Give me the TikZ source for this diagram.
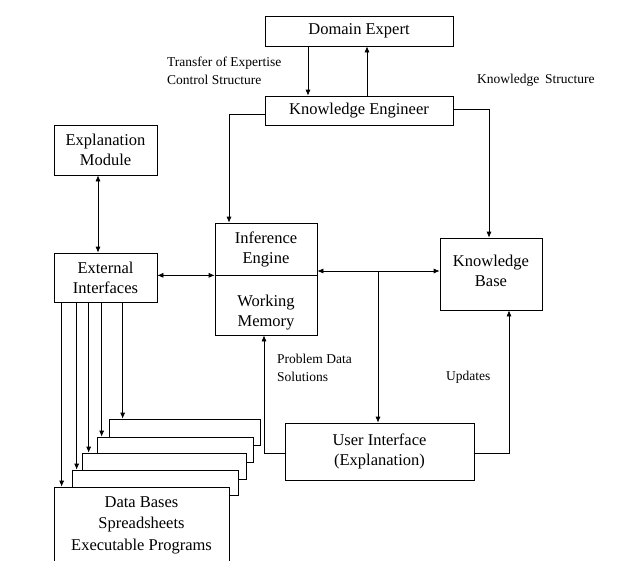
\documentclass[tikz,border=0pt]{standalone}
\usepackage{fontspec}
\setmainfont{Liberation Serif}
\usepackage{tikz}
\usetikzlibrary{arrows.meta}
\tikzset{
    mynode/.style={rectangle,draw=black,fill=white,line width=0.7pt,inner sep=0pt,text centered,align=center,font=\fontsize{16.5}{20}\selectfont},
    mystack/.style={rectangle,draw=black,fill=white,line width=0.7pt,inner sep=0pt},
    mytext/.style={align=center,inner sep=0pt,font=\fontsize{16.5}{20}\selectfont},
    myarrow/.style={->, >={Latex[length=6pt,width=5pt]}, line width=0.7pt},
    mylabel/.style={anchor=west,align=left,inner sep=0pt,font=\fontsize{13.5}{18}\selectfont}
}
\begin{document}
\begin{tikzpicture}[x=1pt,y=-1pt]
    \useasboundingbox (0,0) rectangle (618,560);
    \draw (359,31) node[mynode,minimum width=188pt,minimum height=30pt] (expert) {Domain Expert};
    \draw (359,110.5) node[mynode,minimum width=188pt,minimum height=29pt] (engineer) {Knowledge Engineer};
    \draw (105.5,150) node[mynode,minimum width=103pt,minimum height=50pt] (explanation) {Explanation\\Module};
    \draw (105.5,277.5) node[mynode,minimum width=103pt,minimum height=49pt] (external) {External\\Interfaces};
    \draw (266,249) node[mynode,minimum width=102pt,minimum height=52pt] (inference) {Inference\\Engine};
    \draw (266,305) node[mynode,minimum width=102pt,minimum height=60pt] (memory) {};
    \draw (266,313) node[mytext] (memtext) {Working\\Memory};
    \draw (491,274) node[mynode,minimum width=102pt,minimum height=72pt] (kbase) {};
    \draw (491,271) node[mytext] (kbtext) {Knowledge\\Base};
    \draw (379.5,451.5) node[mynode,minimum width=189pt,minimum height=57pt] (userif) {User Interface\\(Explanation)};
    % stacked boxes
    \draw (184.5,432) node[mystack,minimum width=151pt,minimum height=26pt] (stackd) {};
    \draw (175,449.5) node[mystack,minimum width=156pt,minimum height=25pt] (stackc) {};
    \draw (164,466) node[mystack,minimum width=164pt,minimum height=26pt] (stackb) {};
    \draw (155,482.5) node[mystack,minimum width=166pt,minimum height=25pt] (stacka) {};
    \draw (141.5,531) node[mynode,minimum width=175pt,minimum height=88pt] (databases) {};
    \draw (141.5,496) node[anchor=north,align=center,inner sep=0pt,font=\fontsize{16.5}{21.5}\selectfont] (datatext) {Data Bases\\Spreadsheets\\Executable Programs};
    % labels
    \draw (167,71) node[mylabel] (transfer) {Transfer of Expertise\\Control Structure};
    \draw (477,80) node[mylabel] (kstructure) {Knowledge\, Structure};
    \draw (277,367.5) node[mylabel] (problem) {Problem Data\\Solutions};
    \draw (446,377) node[mylabel] (updates) {Updates};
    \coordinate (junction) at (378,271);
    % connectors
    \draw[myarrow] ([xshift=-51pt]expert.south) -- ([xshift=-51pt]engineer.north);
    \draw[myarrow] ([xshift=8pt]engineer.north) -- ([xshift=8pt]expert.south);
    \draw[myarrow] ([yshift=-4pt]engineer.west) -| ([xshift=-37pt]inference.north);
    \draw[myarrow] ([yshift=1.5pt]engineer.east) -| ([xshift=-2pt]kbase.north);
    \draw[myarrow,<->] ([xshift=-7.5pt]explanation.south) -- ([xshift=-7.5pt]external.north);
    \draw[myarrow,<->] (external.east |- inference.south) -- (inference.south west);
    \draw[myarrow,<->] (inference.south east |- junction) -- (kbase.west |- junction);
    \draw[myarrow] (junction) -- (junction |- userif.north);
    \draw[myarrow] ([yshift=-1.5pt]userif.west) -| ([xshift=-2pt]memory.south);
    \draw[myarrow] ([yshift=-1.5pt]userif.east) -| ([xshift=18pt]kbase.south);
    \draw[myarrow] ([xshift=8pt]external.south west) -- ([xshift=8pt]external.south west |- databases.north);
    \draw[myarrow] ([xshift=23pt]external.south west) -- ([xshift=23pt]external.south west |- stacka.north);
    \draw[myarrow] ([xshift=35pt]external.south west) -- ([xshift=35pt]external.south west |- stackb.north);
    \draw[myarrow] ([xshift=48pt]external.south west) -- ([xshift=48pt]external.south west |- stackc.north);
    \draw[myarrow] ([xshift=69pt]external.south west) -- ([xshift=69pt]external.south west |- stackd.north);
\end{tikzpicture}
\end{document}
